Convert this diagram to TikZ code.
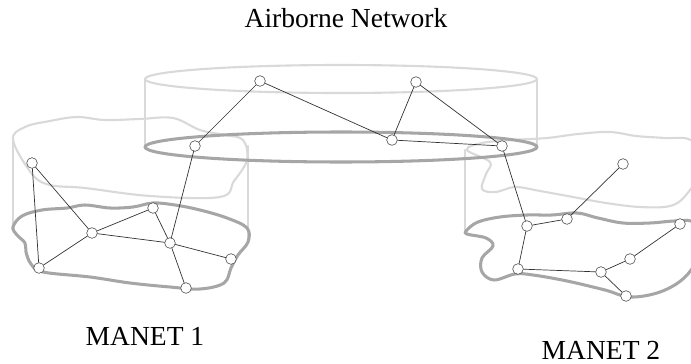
\documentclass[tikz,border=0pt]{standalone}
\usepackage{fontspec}
\setmainfont{Liberation Serif}
\tikzset{
	host/.style={circle,draw=black!70,fill=white,line width=0.5pt,inner sep=0pt,minimum size=0.32cm},
	link/.style={draw=black!80,line width=0.6pt},
	haze/.style={draw=black!15,line width=1.8pt},
	ground/.style={draw=black!35,line width=2.6pt},
	caption/.style={font=\fontsize{23.5}{28}\selectfont,anchor=base,inner sep=0pt}
}

\begin{document}
\begin{tikzpicture}[line cap=round,line join=round,x=0.03cm,y=-0.03cm]
		\useasboundingbox (0,0) rectangle (691,364);
		\clip (0,0) rectangle (691,364);
		\draw [haze] plot [smooth cycle,tension=0.6] coordinates {(13,140) (25,127) (50,121) (77,117) (105,120) (140,119) (173,118) (200,130) (225,135) (243,140) (247,160) (234,181) (220,197) (150,196) (85,188) (50,185) (32,174)};
		\draw [haze] (13,140)-- (13,228);
		\draw [haze] (248,146)-- (248,242);
		\draw [haze] plot [smooth cycle,tension=0.6] coordinates {(467,150) (482,143) (512,140) (547,138) (578,134) (610,132) (636,136) (664,138) (692,141) (700,170) (686,195) (670,206) (640,207) (606,203) (573,197) (540,191) (515,187) (496,192) (482,189) (486,174) (490,162)};
		\draw [haze] (465,150)-- (465,232);
		\draw [haze] (341,79) ellipse [x radius=196,y radius=14];
		\draw [haze] (145,79)-- (145,147);
		\draw [haze] (537,79)-- (537,147);
		\draw [ground] (341,147) ellipse [x radius=196,y radius=15];
		\draw [ground] plot [smooth cycle,tension=0.6] coordinates {(13,227) (22,216) (42,210) (67,208) (85,205) (110,208) (133,207) (153,203) (175,205) (200,210) (227,218) (247,228) (248,242) (238,255) (231,268) (224,283) (200,289) (170,287) (130,283) (90,277) (43,272) (31,264) (26,252) (25,243) (17,235)};
		\draw [ground] plot [smooth cycle,tension=0.6] coordinates {(467,230) (478,222) (500,217) (527,215) (552,215) (577,213) (598,218) (623,223) (650,223) (677,221) (694,224) (696,258) (684,278) (660,292) (630,297) (605,290) (567,281) (533,275) (515,274) (494,280) (482,272) (482,258) (493,246) (486,238) (467,234)};
		\node [host] (a1) at (260,81) {};
		\node [host] (a2) at (416,82) {};
		\node [host] (a3) at (392,140) {};
		\node [host] (a4) at (502,146) {};
		\node [host] (a5) at (195,146) {};
		\node [host] (m1) at (32,163) {};
		\node [host] (m2) at (92,233) {};
		\node [host] (m3) at (153,208) {};
		\node [host] (m4) at (170,243) {};
		\node [host] (m5) at (231,259) {};
		\node [host] (m6) at (186,288) {};
		\node [host] (m7) at (39,268) {};
		\node [host] (p1) at (623,164) {};
		\node [host] (p2) at (527,226) {};
		\node [host] (p3) at (567,219) {};
		\node [host] (p4) at (680,224) {};
		\node [host] (p5) at (630,259) {};
		\node [host] (p6) at (601,272) {};
		\node [host] (p7) at (518,269) {};
		\node [host] (p8) at (626,296) {};
		\draw [link] (a5)-- (a1)-- (a3)-- (a2)-- (a4);
		\draw [link] (a3)-- (a4);
		\draw [link] (a5)-- (m4);
		\draw [link] (a4)-- (p2);
		\draw [link] (m1)-- (m7)-- (m2)-- (m1);
		\draw [link] (m2)-- (m3)-- (m4)-- (m2);
		\draw [link] (m4)-- (m5);
		\draw [link] (m4)-- (m6);
		\draw [link] (p1)-- (p3)-- (p2)-- (p7)-- (p6)-- (p5)-- (p4);
		\draw [link] (p6)-- (p8);
		\node [caption] (title) at (346,28) {Airborne Network};
		\node [caption] (net1) at (145,345) {MANET 1};
		\node [caption] (net2) at (601,359) {MANET 2};
	\end{tikzpicture}
\end{document}
